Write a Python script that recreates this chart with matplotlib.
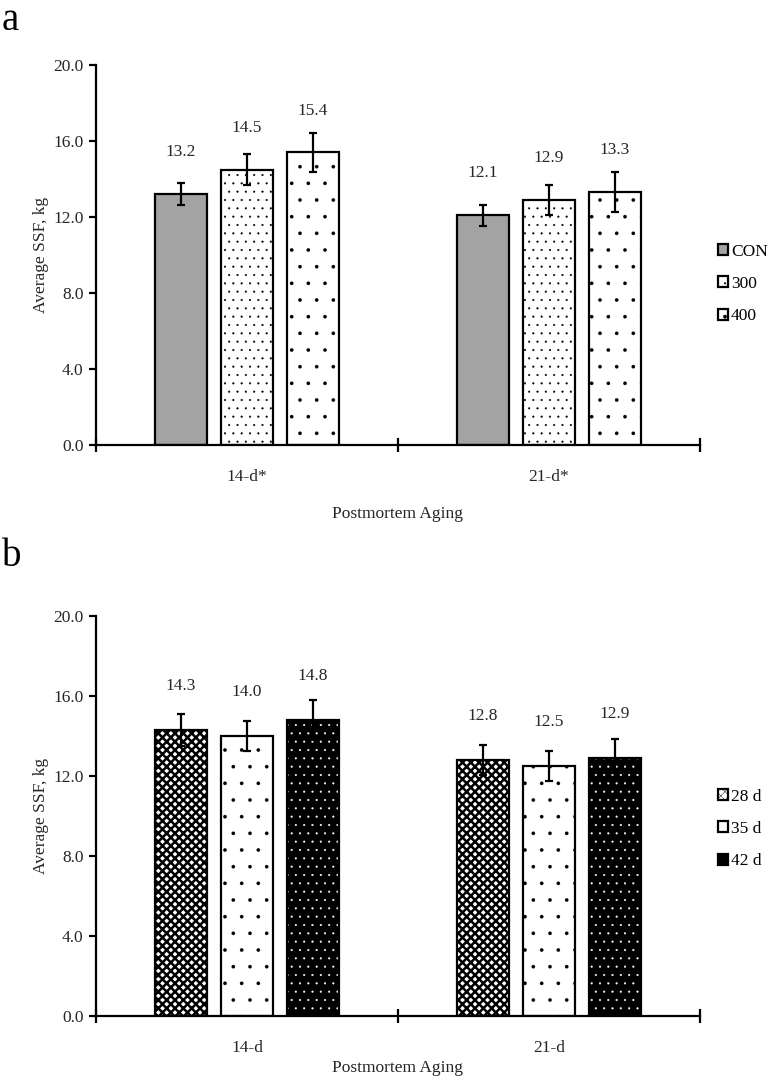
import matplotlib.pyplot as plt
import numpy as np
from matplotlib.patches import Patch
from matplotlib.ticker import FormatStrFormatter

plt.rcParams['font.family'] = ['Liberation Serif', 'DejaVu Serif']
plt.rcParams['hatch.linewidth'] = 0.3

# panel a: injection level
groups_a = ['14-d*', '21-d*']
names_a = ['CON', '300', '400']
con_a = [13.2, 12.1]
con_a_err = [0.57, 0.55]
p300_a = [14.5, 12.9]
p300_a_err = [0.82, 0.80]
p400_a = [15.4, 13.3]
p400_a_err = [1.03, 1.05]

# panel b: feeding duration
groups_b = ['14-d', '21-d']
names_b = ['28 d', '35 d', '42 d']
d28_b = [14.3, 12.8]
d28_b_err = [0.80, 0.75]
d35_b = [14.0, 12.5]
d35_b_err = [0.77, 0.77]
d42_b = [14.8, 12.9]
d42_b_err = [1.00, 0.95]

# (face, hatch colour, hatch, hatch linewidth)
styles_a = [('#a3a3a3', '#a3a3a3', None, 0.3),
            ('white', 'black', '..', 0.3),
            ('white', 'black', '.', 0.2)]
styles_b = [('white', 'black', 'xxxx', 1.8),
            ('white', 'black', '.', 0.2),
            ('black', 'white', '..', 0.3)]

width = 0.172
step = 0.2185
fs = 12.5
txt = '#262626'


def panel(ax, groups, values, errors, names, styles, legend_y):
    x = np.arange(len(groups))
    handles = []
    for i, (v, e, st) in enumerate(zip(values, errors, styles)):
        face, hcol, hatch, hlw = st
        pos = x + (i - 1) * step
        bars = ax.bar(pos, v, width, color=face, edgecolor=hcol, hatch=hatch,
                      linewidth=0, zorder=2)
        for b in bars:
            if hasattr(b, 'set_hatch_linewidth'):
                b.set_hatch_linewidth(hlw)
        ax.bar(pos, v, width, fill=False, edgecolor='black', linewidth=1.6, zorder=3)
        ax.errorbar(pos, v, yerr=e, fmt='none', ecolor='black', elinewidth=1.6,
                    capsize=3, capthick=1.6, zorder=4)
        for xp, val in zip(pos, v):
            ax.text(xp, val + 2.2, f'{val:.1f}', ha='center', va='center',
                    fontsize=fs, color=txt)
        h = Patch(facecolor=face, edgecolor='black', linewidth=1.6,
                  hatch=hatch if hcol == 'black' else None)
        handles.append(h)

    ax.set_xlim(-0.5, 1.5)
    ax.set_ylim(0, 20)
    ax.set_yticks(np.arange(0, 21, 4))
    ax.yaxis.set_major_formatter(FormatStrFormatter('%.1f'))
    ax.set_xticks([-0.5, 0.5, 1.5])
    ax.set_xticklabels([])
    ax.set_xticks(x, minor=True)
    ax.set_xticklabels(groups, minor=True)
    ax.tick_params(axis='x', which='major', direction='inout', length=10, width=1.6)
    ax.tick_params(axis='x', which='minor', length=0, pad=17, labelsize=fs,
                   labelcolor=txt)
    ax.tick_params(axis='y', direction='out', length=5, width=1.6, labelsize=fs,
                   labelcolor=txt, pad=4)
    for s in ['top', 'right']:
        ax.spines[s].set_visible(False)
    for s in ['left', 'bottom']:
        ax.spines[s].set_linewidth(1.6)

    ax.set_ylabel('Average SSF, kg', fontsize=fs, color=txt)
    ax.yaxis.set_label_coords(-0.078, 0.5)
    ax.set_xlabel('Postmortem Aging', fontsize=fs, color=txt)

    ax.legend(handles, names, loc='center left', frameon=False, fontsize=fs,
              bbox_to_anchor=(718 / 776, 1 - legend_y / 1082),
              bbox_transform=ax.figure.transFigure,
              handlelength=0.6, handleheight=0.6, handletextpad=0.15,
              labelspacing=0.95, borderpad=0, borderaxespad=0)


fig = plt.figure(figsize=(7.76, 10.82), dpi=100)
ax_a = fig.add_axes([96 / 776, 1 - 445 / 1082, 604 / 776, 380 / 1082])
ax_b = fig.add_axes([96 / 776, 1 - 1016 / 1082, 604 / 776, 400 / 1082])

panel(ax_a, groups_a, [con_a, p300_a, p400_a], [con_a_err, p300_a_err, p400_a_err],
      names_a, styles_a, 284)
panel(ax_b, groups_b, [d28_b, d35_b, d42_b], [d28_b_err, d35_b_err, d42_b_err],
      names_b, styles_b, 829)

ax_a.xaxis.set_label_coords(0.5, -0.16)
ax_b.xaxis.set_label_coords(0.5, -0.11)

fig.text(2 / 776, 1 - 20 / 1082, 'a', fontsize=28, va='center', ha='left')
fig.text(2 / 776, 1 - 557 / 1082, 'b', fontsize=28, va='center', ha='left')

fig.savefig('out.png', dpi=100)
